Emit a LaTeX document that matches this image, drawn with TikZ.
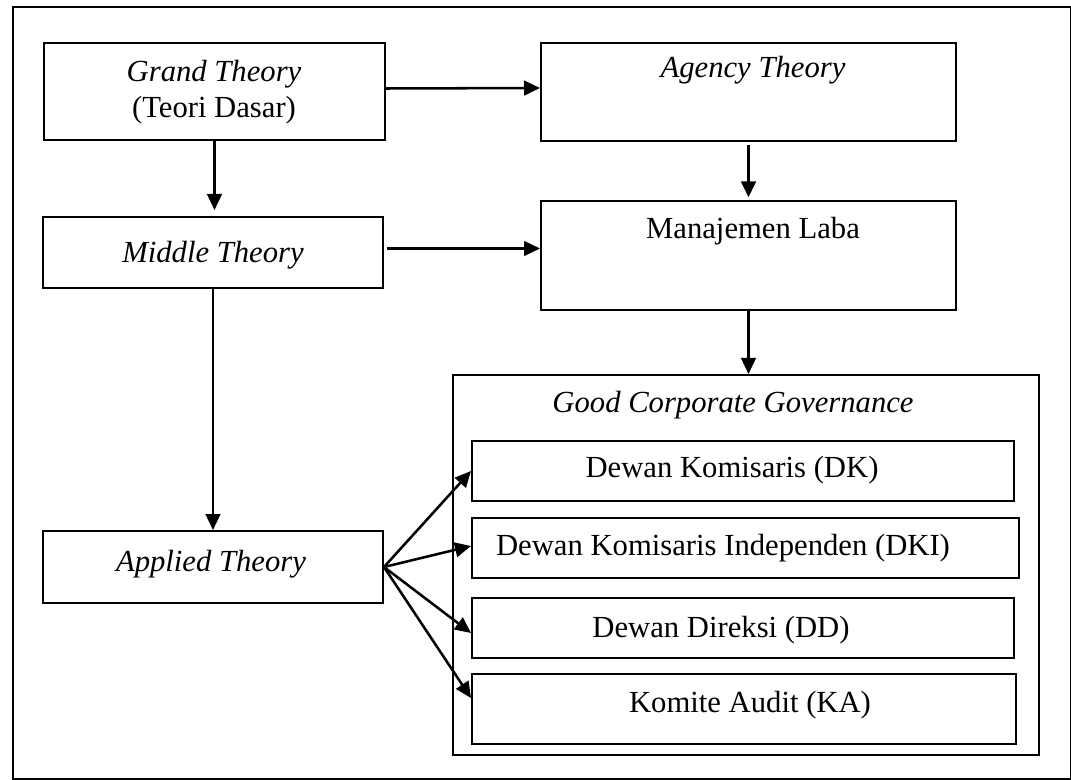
\documentclass[tikz,border=0pt]{standalone}
\usepackage{fontspec}
\setmainfont{Liberation Serif}
\usetikzlibrary{arrows.meta,calc}
\newcommand\pxu{0.75pt}
\tikzset{
  box/.style={draw, line width=1.5pt, inner sep=0pt, anchor=north west},
  lbl/.style={inner sep=0pt, anchor=base, font=\fontsize{23pt}{27pt}\selectfont},
  conn/.style={line width=1.9pt, -{Triangle[length=12pt,width=11pt]}},
}
\begin{document}
\begin{tikzpicture}[x=0.75pt,y=-0.75pt]
\useasboundingbox (0,0) rectangle (1071,780);
% outer frame
\node[box, minimum width=1058*\pxu, minimum height=772*\pxu] (frame) at (12,6) {};
% boxes
\node[box, minimum width=341*\pxu, minimum height=97*\pxu]  (grand)   at (43,42) {};
\node[box, minimum width=415*\pxu, minimum height=98*\pxu]  (agency)  at (540,42) {};
\node[box, minimum width=340*\pxu, minimum height=71*\pxu]  (middle)  at (42,216) {};
\node[box, minimum width=415*\pxu, minimum height=109*\pxu] (laba)    at (540,200) {};
\node[box, minimum width=340*\pxu, minimum height=72*\pxu]  (applied) at (42,530) {};
\node[box, minimum width=586*\pxu, minimum height=380*\pxu] (gcg)     at (452,374) {};
\node[box, minimum width=542*\pxu, minimum height=60*\pxu]  (dk)      at (471,440) {};
\node[box, minimum width=547*\pxu, minimum height=60*\pxu]  (dki)     at (471,517) {};
\node[box, minimum width=542*\pxu, minimum height=60*\pxu]  (dd)      at (471,597) {};
\node[box, minimum width=544*\pxu, minimum height=70*\pxu]  (ka)      at (471,673) {};
% labels
\node[lbl] (tgrand)   at (214,82)  {\textit{Grand Theory}};
\node[lbl] (tdasar)   at (214,118) {(Teori Dasar)};
\node[lbl] (tagency)  at (753,78)  {\textit{Agency Theory}};
\node[lbl] (tmiddle)  at (213,263) {\textit{Middle Theory}};
\node[lbl] (tlaba)    at (753,239) {Manajemen Laba};
\node[lbl] (tapplied) at (211,571) {\textit{Applied Theory}};
\node[lbl] (tgcg)     at (733,413) {\textit{Good Corporate Governance}};
\node[lbl] (tdk)      at (732,478) {Dewan Komisaris (DK)};
\node[lbl] (tdki)     at (723,555) {Dewan Komisaris Independen (DKI)};
\node[lbl] (tdd)      at (721,637) {Dewan Direksi (DD)};
\node[lbl] (tka)      at (750,712) {Komite Audit (KA)};
% connectors
\draw[conn] ($(grand.east)+(0,-3)$) -- ($(agency.west)+(0,-4)$);
\draw[conn] ($(middle.east)+(3,-4)$) -- ($(laba.west |- middle.east)+(0,-4)$);
\draw[conn, shorten >=4.5pt] (grand.south) -- (grand.south |- middle.north);
\draw[conn, shorten >=2pt] ($(agency.south)+(0,3)$) -- (agency.south |- laba.north);
\draw[conn] (laba.south) -- (laba.south |- gcg.north);
\draw[conn] (middle.south) -- (middle.south |- applied.north);
\draw[conn] (applied.east) -- (dk.west);
\draw[conn] (applied.east) -- ($(dki.west)+(0,-2)$);
\draw[conn] (applied.east) -- ($(dd.west)+(0,5)$);
\draw[conn] (applied.east) -- ($(ka.west)+(0,-11)$);
\end{tikzpicture}
\end{document}
